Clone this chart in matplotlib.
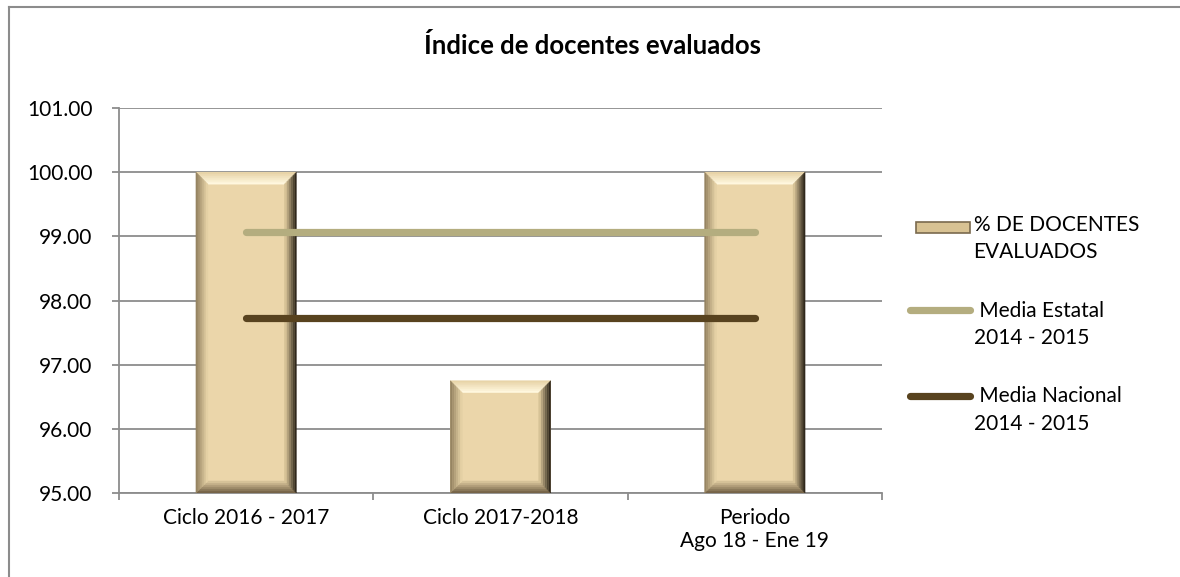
import numpy as np
import matplotlib
matplotlib.use("Agg")
import matplotlib.pyplot as plt
from matplotlib.patches import Polygon, Rectangle
from matplotlib.lines import Line2D
from matplotlib.transforms import IdentityTransform
from matplotlib.legend_handler import HandlerLine2D, HandlerPatch

plt.rcParams["font.family"] = ["Lato", "DejaVu Sans"]

categories = ["Ciclo 2016 - 2017", "Ciclo 2017-2018", "Periodo\nAgo 18 - Ene 19"]
docentes = [100.0, 96.75, 100.0]
media_estatal = [99.07, 99.07, 99.07]
media_nacional = [97.73, 97.73, 97.73]
yticks = [95, 96, 97, 98, 99, 100, 101]

face = "#EBD6AA"
grid_c = "#8C8C8C"

fig = plt.figure(figsize=(11.8, 5.77), dpi=100)
ax = fig.add_axes([119 / 1180, 1 - 493 / 577, 763 / 1180, 385 / 577])

x = np.arange(len(categories))
bars = ax.bar(x, [v - 95 for v in docentes], bottom=95, width=0.395,
              color=face, zorder=2)
ax.plot(x, media_estatal, color="#B4AD7F", lw=5.2, solid_capstyle="round", zorder=4)
ax.plot(x, media_nacional, color="#58431F", lw=5.2, solid_capstyle="round", zorder=4)

ax.set_xlim(-0.5, len(categories) - 0.5)
ax.set_ylim(95, 101)
ax.set_yticks(yticks)
ax.set_yticklabels([f"{v:.2f}" for v in yticks])
ax.set_xticks(x)
ax.set_xticklabels(categories)
ax.set_xticks(np.arange(len(categories) + 1) - 0.5, minor=True)
ax.tick_params(axis="x", which="major", length=0, pad=11, labelsize=15)
ax.tick_params(axis="x", which="minor", length=5, width=1.3, color=grid_c, direction="out")
ax.tick_params(axis="y", length=5, width=1.3, color=grid_c, pad=14, labelsize=15)
ax.grid(axis="y", color=grid_c, lw=1.3, zorder=0)
ax.set_axisbelow(True)
for s in ["top", "right"]:
    ax.spines[s].set_visible(False)
for s in ["left", "bottom"]:
    ax.spines[s].set_color(grid_c)
    ax.spines[s].set_linewidth(1.3)


def mix(c0, c1, t):
    return tuple((a + (b - a) * t) / 255 for a, b in zip(c0, c1))


# bevel shading of each bar, in pixels
bevel = {"top": ((232, 212, 168), (255, 247, 222)),
         "left": ((150, 132, 98), (228, 208, 164)),
         "right": ((48, 40, 28), (214, 194, 150)),
         "bottom": ((118, 100, 72), (214, 194, 152))}
bw = 12
n = 6
for bar in bars:
    bb = bar.get_window_extent()
    x0, y0, x1, y1 = bb.x0, bb.y0, bb.x1, bb.y1
    for k in range(n):
        a, b = bw * k / n, bw * (k + 1) / n
        t = k / (n - 1)
        polys = {
            "top": [(x0 + a, y1 - a), (x1 - a, y1 - a), (x1 - b, y1 - b), (x0 + b, y1 - b)],
            "bottom": [(x0 + a, y0 + a), (x1 - a, y0 + a), (x1 - b, y0 + b), (x0 + b, y0 + b)],
            "left": [(x0 + a, y0 + a), (x0 + a, y1 - a), (x0 + b, y1 - b), (x0 + b, y0 + b)],
            "right": [(x1 - a, y0 + a), (x1 - a, y1 - a), (x1 - b, y1 - b), (x1 - b, y0 + b)],
        }
        for side, pts in polys.items():
            c = mix(bevel[side][0], bevel[side][1], t)
            ax.add_patch(Polygon(pts, closed=True, facecolor=c, edgecolor=c, lw=0.3,
                                 transform=IdentityTransform(), zorder=3))


class TopLine(HandlerLine2D):
    def create_artists(self, legend, orig_handle, xdescent, ydescent, width, height,
                       fontsize, trans):
        arts = super().create_artists(legend, orig_handle, xdescent, ydescent, width,
                                      height, fontsize, trans)
        for a in arts:
            a.set_ydata(np.asarray(a.get_ydata()) + fontsize * 0.72)
        return arts


def bar_handle(legend, orig_handle, xdescent, ydescent, width, height, fontsize):
    return Rectangle((-xdescent + 4, -ydescent + fontsize * 0.72 - 1), width - 4, height * 0.75)


h_bar = Rectangle((0, 0), 1, 1, facecolor="#D8C293", edgecolor="#7A6A4E", lw=1.2)
h_est = Line2D([], [], color="#B4AD7F", lw=5.2, solid_capstyle="round")
h_nac = Line2D([], [], color="#58431F", lw=5.2, solid_capstyle="round")
leg = fig.legend([h_bar, h_est, h_nac],
                 ["% DE DOCENTES\nEVALUADOS", " Media Estatal\n2014 - 2015",
                  " Media Nacional\n2014 - 2015"],
                 loc="upper left", bbox_to_anchor=(910 / 1180, 1 - 215 / 577),
                 frameon=False, fontsize=15, handlelength=2.9, handletextpad=0.15,
                 labelspacing=1.85, borderpad=0, borderaxespad=0,
                 handler_map={Line2D: TopLine(), Rectangle: HandlerPatch(patch_func=bar_handle)})
for t in leg.get_texts():
    t.set_linespacing(1.45)

fig.text(593 / 1180, 1 - 46 / 577, "Índice de docentes evaluados", ha="center", va="center",
         fontsize=18.5, fontweight="bold")

fig.add_artist(Line2D([9 / 1180, 9 / 1180], [0, 1 - 7 / 577], transform=fig.transFigure,
                      color="#8C8C8C", lw=1.5))
fig.add_artist(Line2D([9 / 1180, 1], [1 - 7 / 577, 1 - 7 / 577], transform=fig.transFigure,
                      color="#8C8C8C", lw=1.5))

fig.savefig("out.png", dpi=100)
